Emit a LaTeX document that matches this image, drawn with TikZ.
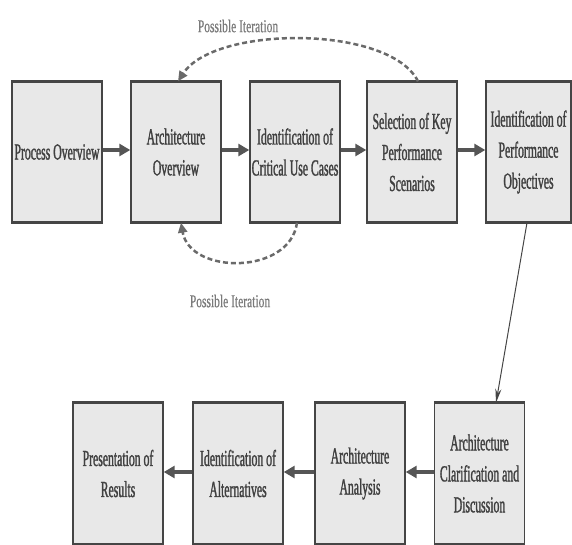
\documentclass[tikz,border=0pt]{standalone}
\usepackage{fontspec}
\setmainfont{Liberation Serif}
\newfontfamily\stagefont{Liberation Serif}[FakeStretch=0.51,FakeBold=1.2]
\newfontfamily\notefont{Liberation Serif}[FakeStretch=0.64,FakeBold=0.6]
\usetikzlibrary{arrows.meta}

\definecolor{boxfill}{HTML}{E8E8E8}
\definecolor{boxline}{HTML}{454545}
\definecolor{inktext}{HTML}{404040}
\definecolor{flowgray}{HTML}{555555}
\definecolor{loopgray}{HTML}{6A6A6A}
\definecolor{notegray}{HTML}{7A7A7A}

\tikzset{
  stage/.style={draw=boxline, line width=1.4pt, fill=boxfill,
    minimum width=90pt, minimum height=140pt, inner sep=0pt,
    align=center, text=inktext, font=\stagefont\fontsize{23}{31}\selectfont},
  rim/.style={draw=boxline, line width=3.2pt},
  flow/.style={draw=flowgray, line width=3.5pt, -{Triangle[length=11pt,width=12pt]}},
  handoff/.style={draw=boxline, line width=1pt, -{Stealth[length=14pt,width=6pt]}},
  loopback/.style={draw=loopgray, line width=2.5pt, dash pattern=on 5pt off 3pt,
    -{Triangle[length=10pt,width=9pt]}},
  note/.style={text=notegray, font=\notefont\fontsize{18}{20}\selectfont, inner sep=0pt}
}

\begin{document}
\begin{tikzpicture}[x=1pt,y=-1pt]
\useasboundingbox (0,0) rectangle (572,544);

% upper row of stages
\node[stage] (p1) at (57,152) {Process Overview};
\node[stage] (p2) at (176,152) {Architecture\\Overview};
\node[stage] (p3) at (295,152) {Identification of\\Critical Use Cases};
\node[stage] (p4) at (412,152) {Selection of Key\\Performance\\Scenarios};
\node[stage, minimum width=85pt] (p5) at (528.5,152) {Identification of\\Performance\\Objectives};

% lower row of stages
\node[stage] (b4) at (479.5,473.5) {Architecture\\Clarification and\\Discussion};
\node[stage] (b3) at (360,473.5) {Architecture\\Analysis};
\node[stage] (b2) at (238,473.5) {Identification of\\Alternatives};
\node[stage] (b1) at (118,473.5) {Presentation of\\Results};

% heavy top and bottom edges of every stage
\foreach \n in {p1,p2,p3,p4,p5,b1,b2,b3,b4} {
  \draw[rim] (\n.north west) -- (\n.north east);
  \draw[rim] (\n.south west) -- (\n.south east);
}

% main flow
\draw[flow] ([yshift=2pt]p1.east) -- ([yshift=2pt]p2.west);
\draw[flow] ([yshift=2pt]p2.east) -- ([yshift=2pt]p3.west);
\draw[flow] ([yshift=2pt]p3.east) -- ([yshift=2pt]p4.west);
\draw[flow] ([yshift=2pt]p4.east) -- ([yshift=2pt]p5.west);
\draw[handoff] ([xshift=-1.5pt]p5.south) -- ([xshift=16.5pt]b4.north);
\draw[flow] ([yshift=1.5pt]b4.west) -- ([yshift=1.5pt]b3.east);
\draw[flow] ([yshift=1.5pt]b3.west) -- ([yshift=1.5pt]b2.east);
\draw[flow] ([yshift=1.5pt]b2.west) -- ([yshift=1.5pt]b1.east);

% iteration loops
\draw[loopback] ([xshift=6pt]p4.north) .. controls (390,25) and (215,25) .. ([xshift=2pt]p2.north);
\draw[loopback] ([xshift=2pt]p3.south) .. controls (290,275) and (190,275) .. ([xshift=5pt]p2.south);
\node[note] (upperNote) at (238,26) {Possible Iteration};
\node[note] (lowerNote) at (230,301) {Possible Iteration};
\end{tikzpicture}
\end{document}
